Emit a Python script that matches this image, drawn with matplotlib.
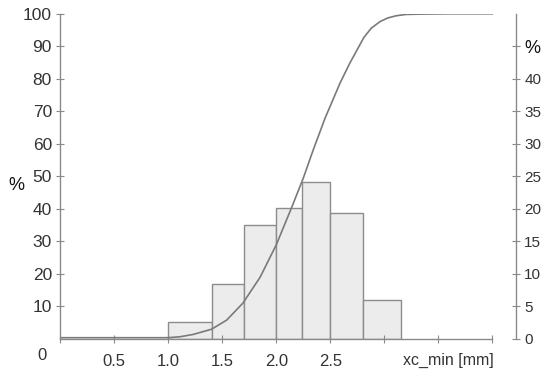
import numpy as np
import matplotlib
matplotlib.use('Agg')
import matplotlib.pyplot as plt

plt.rcParams['font.family'] = ['Liberation Sans', 'DejaVu Sans']

# Klassengrenzen (mm) und Anteil je Klasse q3 in % (rechte Achse)
bin_edges = [1.0, 1.4, 1.7, 2.0, 2.24, 2.5, 2.8, 3.15]
q3_values = [2.6, 8.4, 17.5, 20.2, 24.2, 19.4, 6.0]

# Summenkurve Q3 in % (linke Achse)
cum_x = [0.0, 0.9, 1.0, 1.11, 1.23, 1.40, 1.54, 1.69, 1.85, 2.00,
         2.145, 2.25, 2.34, 2.45, 2.59, 2.68, 2.81, 2.88, 2.96, 3.03, 3.11,
         3.20, 3.33, 3.6, 4.0]
cum_y = [0.4, 0.4, 0.4, 0.7, 1.4, 3.0, 5.8, 11.0, 19.0, 29.0,
         40.7, 49.5, 58.0, 67.8, 78.7, 84.8, 92.7, 95.6, 97.6, 98.7, 99.4,
         99.8, 99.9, 100.0, 100.0]

left_ticks = [10, 20, 30, 40, 50, 60, 70, 80, 90, 100]
right_ticks = [0, 5, 10, 15, 20, 25, 30, 35, 40, 45]
right_labels = ['0', '5', '10', '15', '20', '25', '30', '35', '40', '%']
x_ticks = [0, 0.5, 1.0, 1.5, 2.0, 2.5, 3.0, 3.5, 4.0]
x_labels = ['', '0.5', '1.0', '1.5', '2.0', '2.5', '', '', '']

axis_col = '#8a8a8a'
text_col = '#333333'

fig = plt.figure(figsize=(5.5, 3.78), dpi=100)
ax = fig.add_axes([60.3 / 550, 39 / 378, (516 - 60.3) / 550, (339 - 13.8) / 378])
ax2 = ax.twinx()

# Histogramm auf der rechten Achse
edges = np.array(bin_edges)
ax2.bar(edges[:-1], q3_values, width=np.diff(edges), align='edge',
        color='#ececec', edgecolor='#8c8c8c', linewidth=1.0)
ax2.set_ylim(0, 50)

# Summenkurve auf der linken Achse, vor dem Histogramm
ax.set_zorder(ax2.get_zorder() + 1)
ax.patch.set_visible(False)
ax.plot(cum_x, cum_y, color='#7a7a7a', linewidth=1.2)
ax.set_xlim(0, 4.219)
ax.set_ylim(0, 100)

# Achsen
for a in (ax, ax2):
    a.spines['top'].set_visible(False)
    for s in a.spines.values():
        s.set_color(axis_col)
        s.set_linewidth(1.0)
ax.spines['right'].set_visible(False)
ax2.spines['left'].set_visible(False)
ax2.spines['bottom'].set_visible(False)
ax.spines['bottom'].set_bounds(0, 4.0)

ax.set_yticks(left_ticks)
ax.tick_params(axis='y', direction='inout', length=6, width=0.8, color=axis_col,
               labelsize=12.5, labelcolor=text_col, pad=3)
ax.set_xticks(x_ticks)
ax.set_xticklabels(x_labels)
ax.tick_params(axis='x', direction='inout', length=6, width=0.8, color=axis_col,
               labelsize=12, labelcolor=text_col, pad=8)

ax2.set_yticks(right_ticks)
ax2.set_yticklabels(right_labels)
ax2.tick_params(axis='y', direction='inout', length=6, width=0.8, color=axis_col,
                labelsize=11, labelcolor=text_col, pad=3)
ax2.get_yticklabels()[-1].set_fontsize(13)
ax2.get_yticklabels()[-1].set_color('#111111')

# Beschriftungen
fig.text(42 / 550, 1 - 355 / 378, '0', ha='center', va='center', fontsize=12, color=text_col)
fig.text(16 / 550, 1 - 186 / 378, '%', ha='center', va='center', fontsize=13, color='#111111')
fig.text(448 / 550, 1 - 360 / 378, 'xc_min [mm]', ha='center', va='center', fontsize=11.5,
         color=text_col)

fig.savefig('out.png', dpi=100)
